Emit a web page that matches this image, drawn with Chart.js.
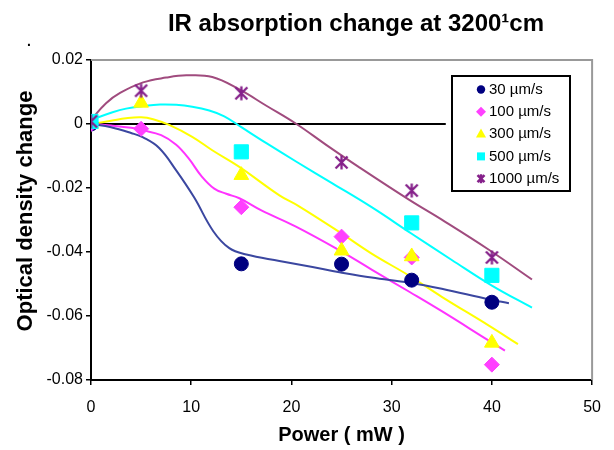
<!DOCTYPE html>
<html>
<head>
<meta charset="utf-8">
<title>IR absorption change</title>
<script src="https://cdn.jsdelivr.net/npm/chart.js@4.4.1/dist/chart.umd.min.js"></script>
<style>
  html, body { margin: 0; padding: 0; background: #fff; }
  #wrap { width: 614px; height: 450px; }
</style>
</head>
<body>
<div id="wrap"><canvas id="chart" width="614" height="450"></canvas></div>
<script>
// measured points (power in mW, optical density change)
const pointPower = [0, 5, 15, 25, 32, 40];
const od30 = [0, null, -0.0437, -0.0438, -0.0488, -0.0557];
const od100 = [0, -0.0015, -0.026, -0.0352, -0.0417, -0.0752];
const od300 = [0, 0.0066, -0.016, -0.0396, -0.0414, -0.0684];
const od500 = [0.0008, null, -0.0087, null, -0.0309, -0.0473];
const od1000 = [0.0008, 0.0104, 0.0096, -0.012, -0.0208, -0.0417];

// fitted curves
const curve30X = [0, 2, 4, 5.2, 6.8, 8.5, 10.3, 12.2, 13.8, 15.5, 18.8, 22.1, 24.8, 28, 31.8, 35, 39.7, 41.7];
const curve30Y = [0, -0.001, -0.0028, -0.0042, -0.0075, -0.0145, -0.023, -0.0335, -0.0388, -0.0408, -0.0428, -0.0447, -0.0463, -0.048, -0.0496, -0.0515, -0.0548, -0.056];
const curve100X = [0, 2, 4, 5.2, 7, 8.5, 9.8, 11, 12.3, 13.5, 14.8, 17, 20.4, 24.8, 28, 31.8, 35, 39.7, 41.3];
const curve100Y = [0, -0.0005, -0.0012, -0.002, -0.0035, -0.0065, -0.011, -0.0162, -0.0202, -0.0218, -0.0232, -0.027, -0.032, -0.0395, -0.0455, -0.0525, -0.0585, -0.0677, -0.0708];
const curve300X = [0, 2, 3.5, 5, 6.2, 7.8, 10.1, 12.1, 14.8, 18.8, 20.8, 24.8, 28, 31.8, 35, 39.7, 42.6];
const curve300Y = [0, 0.001, 0.0018, 0.0021, 0.0015, -0.0003, -0.004, -0.0082, -0.0134, -0.0223, -0.0258, -0.0338, -0.0405, -0.0475, -0.054, -0.063, -0.0688];
const curve500X = [0, 2, 3.5, 5.2, 6.9, 8.5, 10.1, 11.8, 13.3, 15, 17.5, 20.5, 24, 28, 32, 36, 40, 44];
const curve500Y = [0.0013, 0.0035, 0.0048, 0.0056, 0.0061, 0.006, 0.0054, 0.0042, 0.0024, -0.001, -0.006, -0.0118, -0.0184, -0.026, -0.0343, -0.0425, -0.0505, -0.0574];
const curve1000X = [0, 1.5, 2.9, 5.2, 7.5, 9.5, 12.1, 14.8, 17.5, 20.5, 23.5, 26.7, 31.8, 35, 39.7, 44];
const curve1000Y = [0.0013, 0.0065, 0.0097, 0.013, 0.0145, 0.0152, 0.0147, 0.0108, 0.0057, 0, -0.0066, -0.0134, -0.0238, -0.0299, -0.0393, -0.0486];
const zeroLineX = [0, 35.4];
const zeroLineY = [0, 0];

const seriesLabels = ['30 µm/s', '100 µm/s', '300 µm/s', '500 µm/s', '1000 µm/s'];
const xTickValues = [0, 10, 20, 30, 40, 50];
const xTickLabels = ['0', '10', '20', '30', '40', '50'];
const yTickValues = [-0.08, -0.06, -0.04, -0.02, 0, 0.02];
const yTickLabels = ['-0.08', '-0.06', '-0.04', '-0.02', '0', '0.02'];

const FONT = "'Liberation Sans', Arial, sans-serif";
const markerColors = ['#000080', '#ff40ff', '#ffff00', '#00ffff', '#85208a'];
const lineColors = ['#3b47a0', '#ff33ff', '#ffff00', '#00ffff', '#a04b7e'];

function drawAsterisk(ctx, x, y, half, lw, color) {
    ctx.save();
    ctx.strokeStyle = color;
    ctx.lineWidth = lw;
    ctx.beginPath();
    ctx.moveTo(x - half, y - half); ctx.lineTo(x + half, y + half);
    ctx.moveTo(x + half, y - half); ctx.lineTo(x - half, y + half);
    ctx.moveTo(x, y - half - 1); ctx.lineTo(x, y + half + 1);
    ctx.stroke();
    ctx.restore();
}

// Excel style star marker for the 1000 µm/s series
const starMarker = document.createElement('canvas');
starMarker.width = 17;
starMarker.height = 17;
drawAsterisk(starMarker.getContext('2d'), 8.5, 8.5, 6, 2.3, markerColors[4]);

const toXY = (xs, ys) => xs.map((x, i) => ({ x, y: ys[i] })).filter(p => p.y !== null);

const pointSets = [od30, od100, od300, od500, od1000];
const pointStyles = ['circle', 'rectRot', 'triangle', 'rect', starMarker];
const pointRadii = [7, 7.5, 8.5, 10, 8];
const curveX = [curve30X, curve100X, curve300X, curve500X, curve1000X];
const curveY = [curve30Y, curve100Y, curve300Y, curve500Y, curve1000Y];

const datasets = [];
pointSets.forEach((vals, i) => {
    datasets.push({
        type: 'scatter',
        label: seriesLabels[i],
        data: toXY(pointPower, vals),
        pointStyle: pointStyles[i],
        pointRadius: pointRadii[i],
        backgroundColor: markerColors[i],
        borderColor: markerColors[i],
        borderWidth: 1,
        showLine: false,
        order: 5 - i,
    });
    datasets.push({
        type: 'line',
        label: seriesLabels[i] + ' fit',
        data: toXY(curveX[i], curveY[i]),
        borderColor: lineColors[i],
        borderWidth: 2,
        pointRadius: 0,
        fill: false,
        tension: 0.4,
        order: 10,
    });
});
datasets.push({
    type: 'line',
    label: 'zero',
    data: toXY(zeroLineX, zeroLineY),
    borderColor: '#000',
    borderWidth: 2,
    pointRadius: 0,
    fill: false,
    order: 20,
});

const decorations = {
    id: 'decorations',
    beforeDatasetsDraw(chart) {
        const { ctx, chartArea: a } = chart;
        ctx.save();
        ctx.strokeStyle = '#999';
        ctx.lineWidth = 2;
        ctx.beginPath();
        ctx.moveTo(a.left, a.top);
        ctx.lineTo(a.right, a.top);
        ctx.lineTo(a.right, a.bottom);
        ctx.stroke();
        ctx.restore();
    },
    afterDraw(chart) {
        const ctx = chart.ctx;
        ctx.save();
        ctx.fillStyle = '#000';

        // title
        ctx.font = 'bold 24px ' + FONT;
        ctx.textAlign = 'center';
        ctx.textBaseline = 'alphabetic';
        ctx.fillText('IR absorption change at 3200¹cm', 356, 31);

        // stray dot
        ctx.font = 'bold 14px ' + FONT;
        ctx.fillText('.', 29, 46);

        // y axis title
        ctx.save();
        ctx.translate(26, 211);
        ctx.rotate(-Math.PI / 2);
        ctx.font = 'bold 22px ' + FONT;
        ctx.textBaseline = 'middle';
        ctx.fillText('Optical density change', 0, 0);
        ctx.restore();

        // legend
        const bx = 452, by = 76, bw = 118, bh = 115;
        ctx.fillStyle = '#fff';
        ctx.fillRect(bx, by, bw, bh);
        ctx.strokeStyle = '#000';
        ctx.lineWidth = 2;
        ctx.strokeRect(bx, by, bw, bh);
        ctx.font = '15px ' + FONT;
        ctx.textAlign = 'left';
        ctx.textBaseline = 'middle';
        seriesLabels.forEach((label, i) => {
            const y = 89.5 + i * 22.3;
            const x = 481;
            ctx.fillStyle = markerColors[i];
            ctx.beginPath();
            if (i === 0) {
                ctx.arc(x, y, 4.2, 0, Math.PI * 2);
                ctx.fill();
            } else if (i === 1) {
                ctx.moveTo(x, y - 5); ctx.lineTo(x + 5, y); ctx.lineTo(x, y + 5); ctx.lineTo(x - 5, y);
                ctx.closePath();
                ctx.fill();
            } else if (i === 2) {
                ctx.moveTo(x, y - 5.5); ctx.lineTo(x + 5, y + 3.5); ctx.lineTo(x - 5, y + 3.5);
                ctx.closePath();
                ctx.fill();
            } else if (i === 3) {
                ctx.fillRect(x - 4, y - 4, 8, 8);
            } else {
                drawAsterisk(ctx, x, y, 3.5, 2.5, markerColors[4]);
            }
            ctx.fillStyle = '#000';
            ctx.fillText(label, 489, y);
        });
        ctx.restore();
    },
};

new Chart(document.getElementById('chart'), {
    type: 'scatter',
    data: { datasets },
    options: {
        responsive: false,
        animation: false,
        layout: { padding: { top: 60, right: 20, left: 0, bottom: 0 } },
        plugins: {
            legend: { display: false },
            tooltip: { enabled: false },
            title: { display: false },
        },
        scales: {
            x: {
                type: 'linear',
                min: 0,
                max: 50,
                afterFit: (s) => { s.height = 70; },
                afterBuildTicks: (s) => { s.ticks = xTickValues.map(v => ({ value: v })); },
                ticks: {
                    padding: 13,
                    color: '#000',
                    font: { family: FONT, size: 16 },
                    callback: (v, i) => xTickLabels[i],
                },
                grid: { drawOnChartArea: false, drawTicks: true, tickLength: 5, color: '#000', lineWidth: 1.5 },
                border: { display: true, color: '#000', width: 2 },
                title: {
                    display: true,
                    text: 'Power ( mW )',
                    color: '#000',
                    font: { family: FONT, size: 20, weight: 'bold' },
                    padding: { top: 0, bottom: 3 },
                },
            },
            y: {
                type: 'linear',
                min: -0.08,
                max: 0.02,
                afterFit: (s) => { s.width = 91; },
                afterBuildTicks: (s) => { s.ticks = yTickValues.map(v => ({ value: v })); },
                ticks: {
                    padding: 3,
                    color: '#000',
                    font: { family: FONT, size: 16 },
                    callback: (v, i) => yTickLabels[i],
                },
                grid: { drawOnChartArea: false, drawTicks: true, tickLength: 5, color: '#000', lineWidth: 1.5 },
                border: { display: true, color: '#000', width: 2 },
            },
        },
    },
    plugins: [decorations],
});
</script>
</body>
</html>
